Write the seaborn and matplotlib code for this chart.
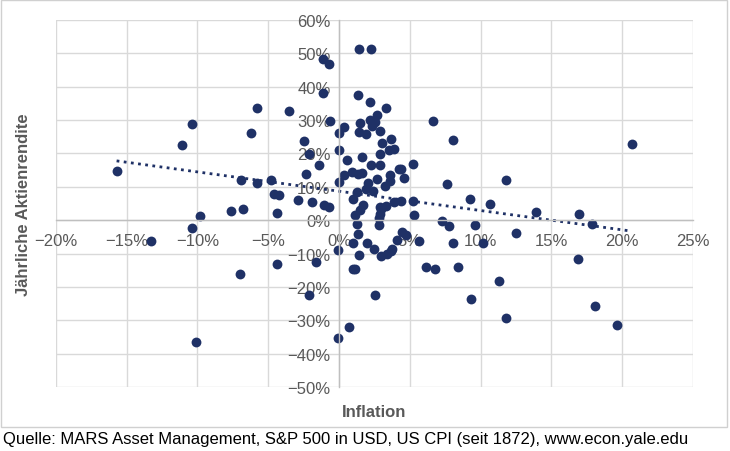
import matplotlib
matplotlib.use("Agg")
import matplotlib.pyplot as plt
from matplotlib.patches import Rectangle
from matplotlib.ticker import PercentFormatter, MultipleLocator
import seaborn as sns
import pandas as pd

# inflation (%) and annual stock return (%)
inflation = [
    -15.7, -13.3, -11.1, -10.4, -10.4, -9.8, -10.1, -7.6, -6.8, -7.0,
    -6.9, -6.2, -5.8, -5.8, -4.8, -4.6, -4.2, -4.4, -4.4, -3.5,
    -2.9, -2.45, -2.1, -2.3, -1.9, -1.4, -1.15, -0.73, -1.13, -0.6,
    -1.04, -0.73, 0.0, 0.0, 0.0, -1.6, -2.1, -0.1, -0.1, 1.43,
    2.26, 1.36, 2.2, 3.3, 2.7, 0.37, 1.48, 2.17, 2.54, 1.43,
    1.9, 2.35, 2.9, 6.65, 8.07, 3.65, 3.03, 1.65, 2.9, 3.5,
    3.9, 0.6, 2.26, 2.9, 4.26, 4.4, 5.2, 0.35, 0.94, 1.32,
    1.6, 2.7, 3.6, 3.6, 4.6, 2.07, 1.9, 2.38, 3.27, 7.6,
    1.3, 1.0, 9.25, 10.66, 1.7, 2.9, 3.3, 3.9, 4.4, 5.2,
    1.5, 1.1, 3.0, 2.9, 2.8, 2.8, 5.3, 1.3, 1.32, 1.0,
    2.0, 2.5, 1.43, 0.97, 1.13, 3.0, 3.4, 3.65, 3.76, 4.07,
    4.45, 4.75, 5.67, 6.14, 6.8, 2.56, 0.68, 7.27, 7.8, 9.6,
    8.07, 10.2, 8.4, 9.34, 11.3, 11.8, 12.5, 13.9, 16.96, 17.9,
    16.9, 18.1, 11.8, 19.6, 20.66,
]
rendite = [
    14.8, -6.1, 22.4, 28.8, -2.4, 1.2, -36.6, 2.6, 3.3, -16.2,
    12.0, 26.0, 33.6, 11.1, 12.0, 7.7, 7.4, 2.0, -13.2, 32.7,
    5.9, 23.6, 19.7, 13.8, 5.4, 16.6, 48.3, 46.8, 38.0, 29.6,
    4.5, 4.0, 26.0, 20.9, 11.4, -12.6, -22.4, -8.9, -35.3, 51.3,
    51.2, 37.5, 35.3, 33.7, 31.5, 27.9, 29.0, 30.1, 29.3, 26.3,
    25.7, 28.3, 26.7, 29.8, 24.1, 24.2, 23.2, 19.0, 19.7, 20.9,
    21.2, 18.1, 16.4, 16.4, 15.2, 15.4, 16.8, 13.5, 14.5, 13.7,
    14.0, 12.2, 13.5, 11.7, 12.5, 11.0, 9.3, 8.7, 10.1, 10.9,
    8.4, 6.3, 6.2, 4.8, 4.5, 3.9, 4.1, 5.5, 5.6, 5.6,
    3.1, 1.6, 3.4, 1.8, 0.5, -1.5, 1.4, -1.0, -4.2, -6.7,
    -6.7, -8.5, -10.3, -14.5, -14.5, -10.8, -10.0, -9.2, -8.6, -6.0,
    -3.6, -4.4, -6.1, -13.9, -14.6, -22.3, -31.9, -0.2, -1.6, -1.5,
    -6.9, -6.7, -14.1, -23.5, -18.2, 12.1, -3.7, 2.5, 1.7, -1.2,
    -11.5, -25.6, -29.4, -31.3, 22.7,
]

df = pd.DataFrame({"Inflation": inflation, "Rendite": rendite})

navy = "#1f3166"
grey_text = "#595959"

sns.set_style("whitegrid", {"grid.color": "#d9d9d9"})
plt.rcParams["font.family"] = ["Liberation Sans", "DejaVu Sans"]

fig = plt.figure(figsize=(7.3, 4.52), dpi=100)
ax = fig.add_axes([0.0763, 0.1416, 0.873, 0.812])

sns.regplot(data=df, x="Inflation", y="Rendite", ax=ax, ci=None,
            scatter_kws={"s": 50, "color": navy, "alpha": 1, "linewidths": 0},
            line_kws={"color": navy, "linestyle": (0, (1, 1.6)), "linewidth": 2})

ax.set_xlim(-20, 25)
ax.set_ylim(-50, 60)
ax.xaxis.set_major_locator(MultipleLocator(5))
ax.yaxis.set_major_locator(MultipleLocator(10))
ax.xaxis.set_major_formatter(PercentFormatter(decimals=0))
ax.yaxis.set_major_formatter(PercentFormatter(decimals=0))

# axes cross at the origin
ax.spines["left"].set_position(("data", 0))
ax.spines["bottom"].set_position(("data", 0))
for side in ["left", "bottom"]:
    ax.spines[side].set_color("#bfbfbf")
    ax.spines[side].set_linewidth(1)
for side in ["top", "right"]:
    ax.spines[side].set_visible(False)
ax.grid(True, color="#d9d9d9", linewidth=1)
ax.tick_params(axis="both", length=0, labelsize=12, labelcolor=grey_text)
ax.tick_params(axis="x", pad=9)
ax.tick_params(axis="y", pad=6)

ax.set_xlabel("Inflation", fontsize=12, fontweight="bold", color=grey_text)
ax.set_ylabel("Jährliche Aktienrendite", fontsize=12, fontweight="bold", color=grey_text)
ax.xaxis.set_label_coords(0.5, -0.045)
ax.yaxis.set_label_coords(-0.038, 0.5)

# chart frame and source line
fig.patches.append(Rectangle((0.002, 0.053), 0.994, 0.944, transform=fig.transFigure,
                             fill=False, edgecolor="#d0d0d0", linewidth=1))
fig.text(0.004, 0.027, "Quelle: MARS Asset Management, S&P 500 in USD, US CPI (seit 1872), www.econ.yale.edu",
         fontsize=12, color="black", va="center", ha="left")

fig.savefig("out.png", dpi=100)
plt.close(fig)
